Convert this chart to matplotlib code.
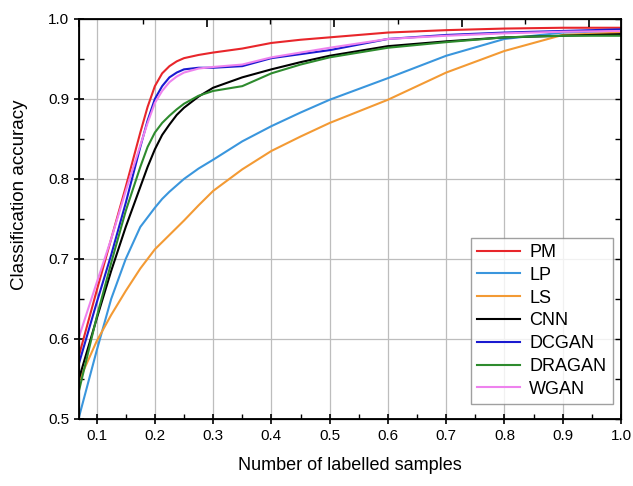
import numpy as np
import matplotlib
matplotlib.use("Agg")
import matplotlib.pyplot as plt
from matplotlib.ticker import MultipleLocator

plt.rcParams['font.family'] = ['Liberation Sans', 'DejaVu Sans']

# fraction of labelled samples
x = [0.07, 0.10, 0.125, 0.15, 0.175, 0.1875, 0.20, 0.2125, 0.225, 0.2375,
     0.25, 0.275, 0.30, 0.35, 0.40, 0.45, 0.50, 0.60, 0.70, 0.80, 0.90, 1.00]

pm = [0.580, 0.660, 0.725, 0.790, 0.858, 0.890, 0.916, 0.932, 0.941, 0.947,
      0.951, 0.955, 0.958, 0.963, 0.970, 0.974, 0.977, 0.983, 0.986, 0.988, 0.989, 0.989]
lp = [0.503, 0.585, 0.650, 0.700, 0.740, 0.752, 0.764, 0.775, 0.784, 0.792,
      0.800, 0.813, 0.824, 0.847, 0.866, 0.883, 0.899, 0.926, 0.954, 0.975, 0.983, 0.985]
ls = [0.548, 0.597, 0.630, 0.660, 0.688, 0.700, 0.712, 0.721, 0.730, 0.739,
      0.748, 0.767, 0.785, 0.812, 0.835, 0.853, 0.870, 0.899, 0.933, 0.960, 0.980, 0.983]
cnn = [0.551, 0.625, 0.685, 0.740, 0.790, 0.815, 0.837, 0.855, 0.868, 0.880,
       0.889, 0.903, 0.914, 0.927, 0.937, 0.946, 0.954, 0.966, 0.972, 0.977, 0.979, 0.981]
dcgan = [0.570, 0.645, 0.705, 0.770, 0.840, 0.873, 0.900, 0.916, 0.927, 0.933,
         0.937, 0.939, 0.939, 0.941, 0.951, 0.956, 0.961, 0.975, 0.980, 0.983, 0.985, 0.987]
dragan = [0.536, 0.627, 0.695, 0.760, 0.815, 0.840, 0.858, 0.870, 0.879, 0.887,
          0.894, 0.904, 0.910, 0.916, 0.932, 0.943, 0.952, 0.964, 0.971, 0.977, 0.979, 0.979]
wgan = [0.603, 0.670, 0.725, 0.785, 0.842, 0.870, 0.895, 0.910, 0.921, 0.928,
        0.933, 0.938, 0.940, 0.943, 0.952, 0.958, 0.964, 0.975, 0.979, 0.982, 0.984, 0.985]

names = ['PM', 'LP', 'LS', 'CNN', 'DCGAN', 'DRAGAN', 'WGAN']
series = [pm, lp, ls, cnn, dcgan, dragan, wgan]
colors = ['#e8262b', '#3a96dd', '#f39a34', '#000000', '#1a1ad0', '#2e8b2e', '#ee82ee']

fig = plt.figure(figsize=(6.33, 4.86), dpi=100)
ax = fig.add_axes([0.125, 0.138, 0.856, 0.823])

for name, ys, c in zip(names, series, colors):
    ax.plot(x, ys, color=c, lw=1.5, label=name)

ax.set_xlim(0.07, 1.0)
ax.set_ylim(0.5, 1.0)
ax.xaxis.set_major_locator(MultipleLocator(0.1))
ax.xaxis.set_minor_locator(MultipleLocator(0.05))
ax.yaxis.set_major_locator(MultipleLocator(0.1))
ax.yaxis.set_minor_locator(MultipleLocator(0.05))
ax.grid(True, which='major', color='#bdbdbd', lw=0.9)
ax.tick_params(which='major', direction='inout', length=7, width=1.2,
               labelsize=11, top=False, right=False)
ax.tick_params(which='minor', direction='in', length=3.5, width=1.0,
               top=False, right=False)
for s in ax.spines.values():
    s.set_linewidth(1.3)

# right side ticks (inward, no labels)
axr = ax.twinx()
axr.set_ylim(0.5, 1.0)
axr.yaxis.set_major_locator(MultipleLocator(0.05))
axr.tick_params(direction='in', length=4, width=1.0, labelright=False)

# top side ticks (inward, no labels)
axt = ax.twiny()
axt.set_xlim(0, 8.5)
axt.xaxis.set_major_locator(MultipleLocator(2))
axt.xaxis.set_minor_locator(MultipleLocator(1))
axt.tick_params(which='major', direction='in', length=6, width=1.2, labeltop=False)
axt.tick_params(which='minor', direction='in', length=3.5, width=1.0)

ax.set_xlabel('Number of labelled samples', fontsize=13, labelpad=10)
ax.set_ylabel('Classification accuracy', fontsize=13.5, labelpad=6)
ax.yaxis.set_label_coords(-0.095, 0.56)

leg = ax.legend(loc='lower right', bbox_to_anchor=(0.985, 0.0375), fontsize=13,
                frameon=True, fancybox=False, edgecolor='#888888',
                handlelength=2.4, labelspacing=0.32, borderpad=0.35,
                handletextpad=0.5, borderaxespad=0)
leg.get_frame().set_linewidth(1.0)
leg.set_zorder(5)

fig.savefig('out.png', dpi=100)
